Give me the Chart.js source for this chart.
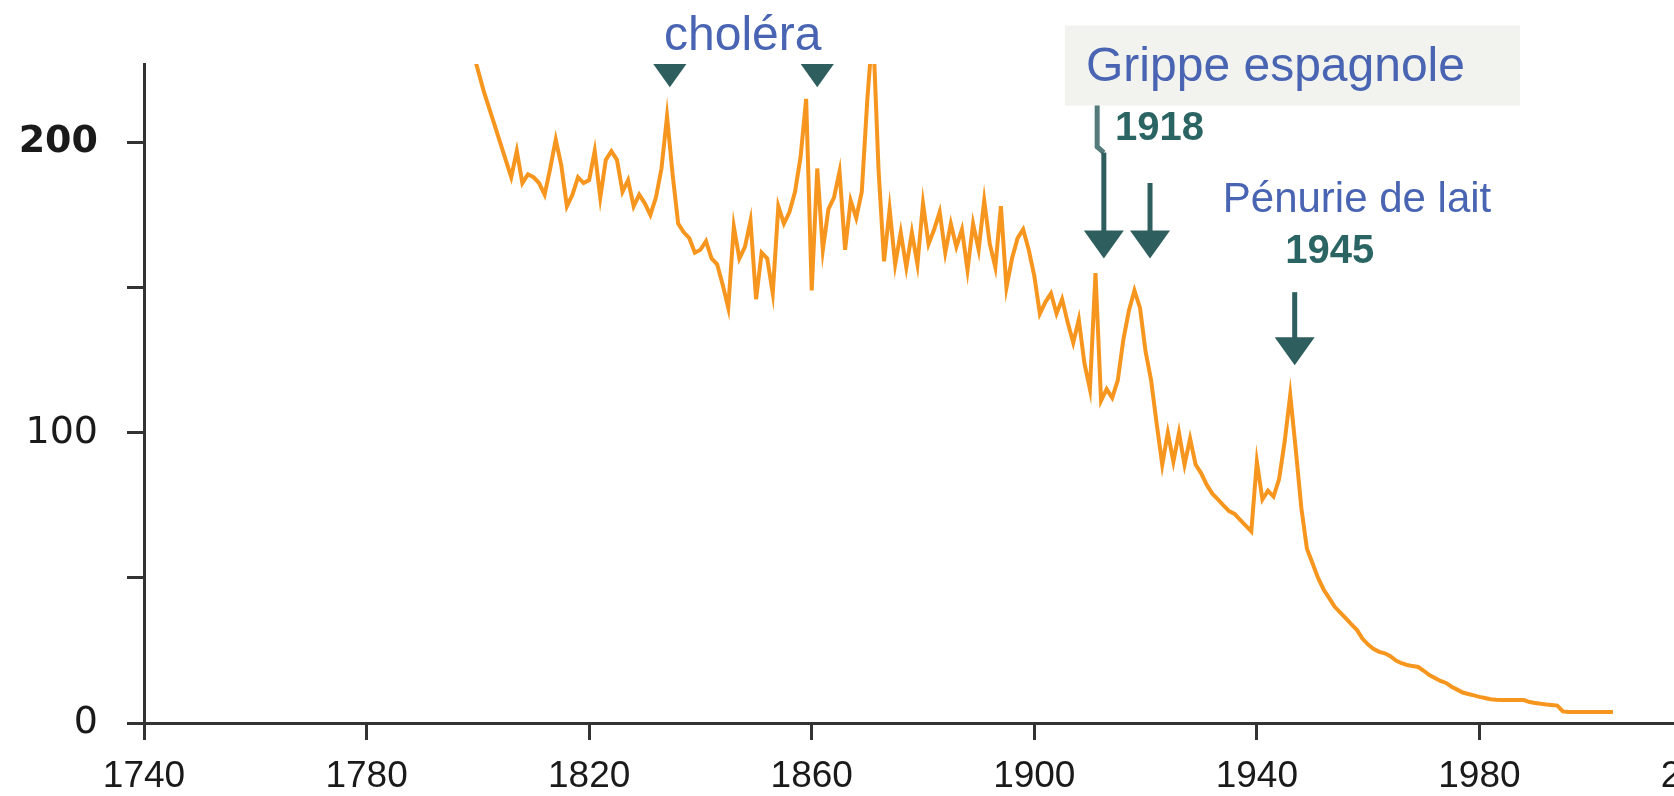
<!DOCTYPE html>
<html>
<head>
<meta charset="utf-8">
<script src="https://cdn.jsdelivr.net/npm/chart.js@4.4.1/dist/chart.umd.min.js"></script>
<style>
  html, body { margin: 0; padding: 0; background: #ffffff; overflow: hidden; }
  #wrap { width: 1760px; height: 796px; }
</style>
</head>
<body>
<div id="wrap"><canvas id="mortalityChart" width="1760" height="796"></canvas></div>
<script>
// infant mortality per 1000 births, one value per year
const years = [
  1798, 1799,
  1800, 1801, 1802, 1803, 1804, 1805, 1806, 1807, 1808, 1809,
  1810, 1811, 1812, 1813, 1814, 1815, 1816, 1817, 1818, 1819,
  1820, 1821, 1822, 1823, 1824, 1825, 1826, 1827, 1828, 1829,
  1830, 1831, 1832, 1833, 1834, 1835, 1836, 1837, 1838, 1839,
  1840, 1841, 1842, 1843, 1844, 1845, 1846, 1847, 1848, 1849,
  1850, 1851, 1852, 1853, 1854, 1855, 1856, 1857, 1858, 1859,
  1860, 1861, 1862, 1863, 1864, 1865, 1866, 1867, 1868, 1869,
  1870, 1871, 1872, 1873, 1874, 1875, 1876, 1877, 1878, 1879,
  1880, 1881, 1882, 1883, 1884, 1885, 1886, 1887, 1888, 1889,
  1890, 1891, 1892, 1893, 1894, 1895, 1896, 1897, 1898, 1899,
  1900, 1901, 1902, 1903, 1904, 1905, 1906, 1907, 1908, 1909,
  1910, 1911, 1912, 1913, 1914, 1915, 1916, 1917, 1918, 1919,
  1920, 1921, 1922, 1923, 1924, 1925, 1926, 1927, 1928, 1929,
  1930, 1931, 1932, 1933, 1934, 1935, 1936, 1937, 1938, 1939,
  1940, 1941, 1942, 1943, 1944, 1945, 1946, 1947, 1948, 1949,
  1950, 1951, 1952, 1953, 1954, 1955, 1956, 1957, 1958, 1959,
  1960, 1961, 1962, 1963, 1964, 1965, 1966, 1967, 1968, 1969,
  1970, 1971, 1972, 1973, 1974, 1975, 1976, 1977, 1978, 1979,
  1980, 1981, 1982, 1983, 1984, 1985, 1986, 1987, 1988, 1989,
  1990, 1991, 1992, 1993, 1994, 1995, 1996, 1997, 1998, 1999,
  2000, 2001, 2002, 2003, 2004
];
const mortality = [
  238, 232,
  225, 218, 212, 206, 200, 194, 188, 197, 186, 189,
  188, 186, 182, 191, 201, 192, 178, 182, 188, 186,
  187, 197, 181, 194, 197, 194, 183, 187, 178, 182,
  179, 175, 181, 191, 209, 189, 172, 169, 167, 162,
  163, 166, 160, 158, 151, 143, 171, 160, 164, 173,
  146, 162, 160, 148, 178, 172, 176, 183, 195, 215,
  149, 191, 163, 177, 181, 190, 163, 180, 174, 183,
  215, 240, 191, 159, 177, 158, 169, 157, 169, 158,
  179, 165, 170, 176, 162, 172, 164, 170, 156, 172,
  163, 180, 165, 157, 178, 150, 160, 167, 170, 163,
  154, 141, 145, 148, 141, 146, 138, 131, 139, 124,
  115, 155, 111, 115, 112, 118, 132, 142, 149, 143,
  128, 118, 103, 89, 100, 90, 100, 89, 98, 89,
  86, 82, 79, 77, 75, 73, 72, 70, 68, 66,
  90, 77, 80, 78, 84, 97, 113, 94, 74, 60,
  55, 50, 46, 43, 40, 38, 36, 34, 32, 29,
  27, 25.5, 24.5, 24, 23, 21.5, 20.6, 20, 19.6, 19.3,
  18, 16.5, 15.5, 14.5, 13.8, 12.5, 11.5, 10.5, 10, 9.5,
  9, 8.6, 8.2, 8, 7.9, 7.9, 7.9, 7.9, 7.9, 7.2,
  6.9, 6.6, 6.4, 6.2, 6, 4, 3.8, 3.8, 3.8, 3.8,
  3.8, 3.8, 3.8, 3.8, 3.8
];

// axis ranges and ticks
const xMin = 1740, xMax = 2020, xStep = 40;
const yMin = 0, yMax = 227, yStep = 50;
const yLabelled = [0, 100, 200];

// annotations (year / value positions)
const choleraArrows = [1834.5, 1861];
const grippeArrows = [1912.5, 1920.8];
const penurieArrow = 1946.8;

const blue = '#4864b2';
const teal = '#2e5e5e';
const textFont = "'Liberation Sans', Arial, sans-serif";

function drawArrow(ctx, px, top, tip) {
    const headH = 28, headW = 40;
    ctx.strokeStyle = teal;
    ctx.fillStyle = teal;
    ctx.lineWidth = 5;
    ctx.beginPath();
    ctx.moveTo(px, top);
    ctx.lineTo(px, tip - headH + 2);
    ctx.stroke();
    ctx.beginPath();
    ctx.moveTo(px - headW / 2, tip - headH);
    ctx.lineTo(px + headW / 2, tip - headH);
    ctx.lineTo(px, tip);
    ctx.closePath();
    ctx.fill();
}

const annotationPlugin = {
    id: 'annotations',
    afterDatasetsDraw(chart) {
        const { ctx, chartArea } = chart;
        const x = chart.scales.x, y = chart.scales.y;
        ctx.save();

        // cholera arrows, cut by the top of the plot
        ctx.save();
        ctx.beginPath();
        ctx.rect(chartArea.left, chartArea.top, chartArea.right - chartArea.left, chartArea.bottom - chartArea.top);
        ctx.clip();
        choleraArrows.forEach(yr => drawArrow(ctx, x.getPixelForValue(yr), y.getPixelForValue(245), y.getPixelForValue(219)));
        ctx.restore();

        ctx.textBaseline = 'alphabetic';
        ctx.fillStyle = blue;
        ctx.font = '48px ' + textFont;
        ctx.textAlign = 'center';
        ctx.fillText('choléra', x.getPixelForValue(1847.6), y.getPixelForValue(231.7));

        // Grippe espagnole box
        const bx1 = x.getPixelForValue(1905.5), bx2 = x.getPixelForValue(1987.3);
        const by1 = y.getPixelForValue(240.3), by2 = y.getPixelForValue(212.7);
        ctx.fillStyle = '#f2f3ee';
        ctx.fillRect(bx1, by1, bx2 - bx1, by2 - by1);
        ctx.fillStyle = blue;
        ctx.textAlign = 'left';
        ctx.font = '48px ' + textFont;
        ctx.fillText('Grippe espagnole', x.getPixelForValue(1909.3), y.getPixelForValue(221.3));

        // 1918 arrows, the first one with a small jog
        ctx.strokeStyle = '#557a7b';
        ctx.lineWidth = 5;
        ctx.beginPath();
        ctx.moveTo(x.getPixelForValue(1911.3), by2);
        ctx.lineTo(x.getPixelForValue(1911.3), y.getPixelForValue(198.5));
        ctx.lineTo(x.getPixelForValue(grippeArrows[0]), y.getPixelForValue(196.5));
        ctx.stroke();
        drawArrow(ctx, x.getPixelForValue(grippeArrows[0]), y.getPixelForValue(196.5), y.getPixelForValue(160));
        drawArrow(ctx, x.getPixelForValue(grippeArrows[1]), y.getPixelForValue(186), y.getPixelForValue(160));

        ctx.fillStyle = '#2b6563';
        ctx.font = 'bold 40px ' + textFont;
        ctx.textAlign = 'left';
        ctx.fillText('1918', x.getPixelForValue(1914.5), y.getPixelForValue(200.7));

        // Pénurie de lait 1945
        ctx.fillStyle = blue;
        ctx.font = '42px ' + textFont;
        ctx.textAlign = 'center';
        ctx.fillText('Pénurie de lait', x.getPixelForValue(1958), y.getPixelForValue(175.9));
        ctx.fillStyle = '#2b6563';
        ctx.font = 'bold 40px ' + textFont;
        ctx.fillText('1945', x.getPixelForValue(1953.1), y.getPixelForValue(158.3));
        drawArrow(ctx, x.getPixelForValue(penurieArrow), y.getPixelForValue(148.4), y.getPixelForValue(123.2));

        ctx.restore();
    }
};

const axisGrid = { drawOnChartArea: false, drawTicks: true, tickLength: 17, tickWidth: 3, tickColor: '#333333' };
const axisBorder = { color: '#333333', width: 3 };

new Chart(document.getElementById('mortalityChart'), {
    type: 'line',
    data: {
        datasets: [{
            data: years.map((yr, i) => ({ x: yr, y: mortality[i] })),
            borderColor: '#f7961e',
            borderWidth: 4,
            pointRadius: 0,
            tension: 0,
            fill: false
        }]
    },
    options: {
        responsive: false,
        animation: false,
        devicePixelRatio: 1,
        layout: { padding: { top: 64, right: 58, left: 0, bottom: 0 } },
        plugins: { legend: { display: false }, tooltip: { enabled: false } },
        scales: {
            x: {
                type: 'linear',
                min: xMin, max: xMax,
                ticks: {
                    stepSize: xStep, includeBounds: false, autoSkip: false, maxRotation: 0,
                    color: '#1a1a1a', font: { family: textFont, size: 37 }, padding: 15,
                    callback: v => String(v)
                },
                grid: axisGrid,
                border: axisBorder,
                afterFit: s => { s.height = 73; }
            },
            y: {
                min: yMin, max: yMax,
                ticks: {
                    stepSize: yStep, includeBounds: false,
                    color: '#1a1a1a', padding: 29,
                    font: c => ({ family: "'DejaVu Sans', sans-serif", size: 38, weight: c.tick && c.tick.value === 200 ? 'bold' : 'normal' }),
                    callback: v => yLabelled.includes(v) ? String(v) : ''
                },
                grid: axisGrid,
                border: axisBorder,
                afterFit: s => { s.width = 144; }
            }
        }
    },
    plugins: [annotationPlugin]
});
</script>
</body>
</html>
